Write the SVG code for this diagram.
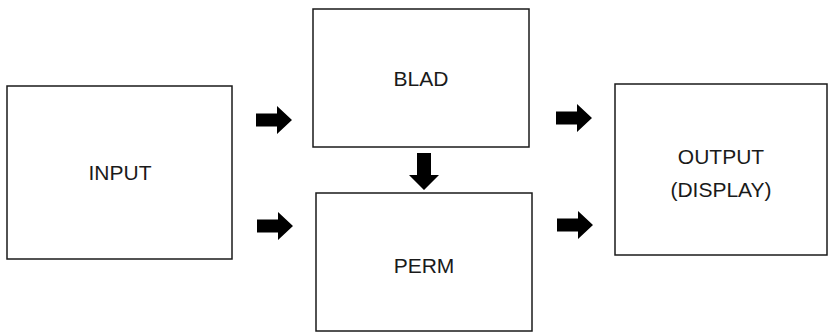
<svg xmlns="http://www.w3.org/2000/svg" width="830" height="333" viewBox="0 0 830 333">
  <defs>
    <style>
      .box { fill: #ffffff; stroke: #1a1a1a; stroke-width: 1.5; }
      .label { font-family: "Liberation Sans", Arial, sans-serif; font-size: 21px; fill: #1a1a1a; text-anchor: middle; }
      .arrow { fill: #000000; }
    </style>
    <!-- solid block arrow pointing right, origin at the shaft's left middle -->
    <path id="blockArrowRight" d="M0,-6.5 H21 V-14 L36,0 L21,14 V6.5 H0 Z"/>
  </defs>
  <rect width="830" height="333" fill="#ffffff"/>

  <g id="input">
    <rect class="box" x="7" y="86" width="225" height="173"/>
    <text class="label" x="120" y="180">INPUT</text>
  </g>

  <g id="blad">
    <rect class="box" x="313" y="9" width="216" height="138"/>
    <text class="label" x="421" y="86">BLAD</text>
  </g>

  <g id="perm">
    <rect class="box" x="316" y="193" width="216" height="138"/>
    <text class="label" x="424" y="273">PERM</text>
  </g>

  <g id="output">
    <rect class="box" x="615" y="84" width="212" height="171"/>
    <text class="label" x="721" y="164">OUTPUT</text>
    <text class="label" x="721" y="197">(DISPLAY)</text>
  </g>

  <g id="connectors">
    <use class="arrow" href="#blockArrowRight" x="256" y="120"/>
    <use class="arrow" href="#blockArrowRight" x="257" y="226"/>
    <use class="arrow" href="#blockArrowRight" x="556" y="118"/>
    <use class="arrow" href="#blockArrowRight" x="557" y="225"/>
    <!-- BLAD feeds PERM -->
    <path class="arrow" d="M417,153 H431 V175 H439 L424,190 L409,175 H417 Z"/>
  </g>
</svg>
